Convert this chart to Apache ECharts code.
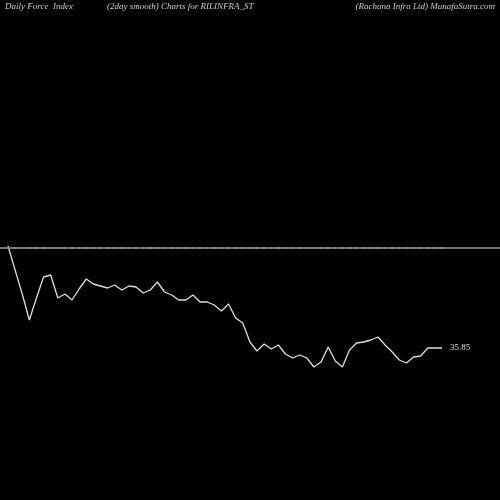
<!DOCTYPE html>
<html>
<head>
<meta charset="UTF-8">
<style>html,body{margin:0;padding:0;background:#000;}#main{width:500px;height:500px;}</style>
<script src="https://cdn.jsdelivr.net/npm/echarts@6/dist/echarts.min.js"></script>
</head>
<body>
<div id="main"></div>
<script>
// force index (2 day smooth), scaled units
var forceValues = [2, -22, -46, -72, -50, -29, -27, -50, -46, -52, -41, -31, -36, -38, -40, -37,
  -42, -38, -39, -45, -42, -34, -44, -47, -52, -52, -47, -54, -54, -57, -63, -56, -70, -75, -94,
  -103, -96, -101, -97, -106, -110, -107, -110, -119, -114, -99, -113, -119, -102, -95, -94, -92,
  -89, -97, -104, -112, -115, -109, -108, -100, -100, -100];
// daily up/down marks along the zero line
var markColors = ['r','r','r','g','g','g','r','r','g','g','r','g','g','g','r','g','g','r','g','g',
  'g','g','r','g','g','g','r','r','r','g','g','r','r','g','g','g','g','r','g','r','r','g','r','r',
  'g','g','r','r','g','r','r','g','g','r','g','g','g','g','r','g','g','g'];
var lastLabel = '35.85';

var chart = echarts.init(document.getElementById('main'));
var cats = forceValues.map(function (v, i) { return i; });
chart.setOption({
  backgroundColor: '#000',
  animation: false,
  grid: { left: 8, right: 58, top: 0, bottom: 0 },
  xAxis: { type: 'category', data: cats, boundaryGap: false, show: false },
  yAxis: { type: 'value', min: -252, max: 248, show: false },
  graphic: [
    { type: 'text', left: 5, top: 2, style: { text: 'Daily Force  Index', fill: '#ccc', font: 'italic 9px "Liberation Serif"' } },
    { type: 'text', left: 107, top: 2, style: { text: '(2day smooth) Charts for RILINFRA_ST', fill: '#ccc', font: 'italic 9px "Liberation Serif"' } },
    { type: 'text', right: 5, top: 2, style: { text: '(Rachana Infra Ltd) MunafaSutra.com', fill: '#ccc', font: 'italic 9px "Liberation Serif"' } }
  ],
  series: [
    {
      type: 'line', data: forceValues, symbol: 'none', z: 3,
      lineStyle: { color: '#ddd', width: 1.3 },
      markLine: {
        silent: true, symbol: 'none', label: { show: false },
        lineStyle: { color: '#999', width: 1.5, type: 'solid' },
        data: [[{ coord: [0, 0], x: 0 }, { coord: [0, 0], x: 500 }]]
      },
      endLabel: { show: true, formatter: lastLabel, color: '#ddd', fontFamily: 'Liberation Serif', fontSize: 9, distance: 8 }
    },
    {
      type: 'scatter', symbol: 'rect', symbolSize: [3, 2], z: 4,
      data: markColors.map(function (c, i) { return [i, 0]; }),
      itemStyle: {
        color: function (p) { return markColors[p.dataIndex] === 'r' ? '#c44' : '#3b3'; }
      }
    }
  ]
});
</script>
</body>
</html>
